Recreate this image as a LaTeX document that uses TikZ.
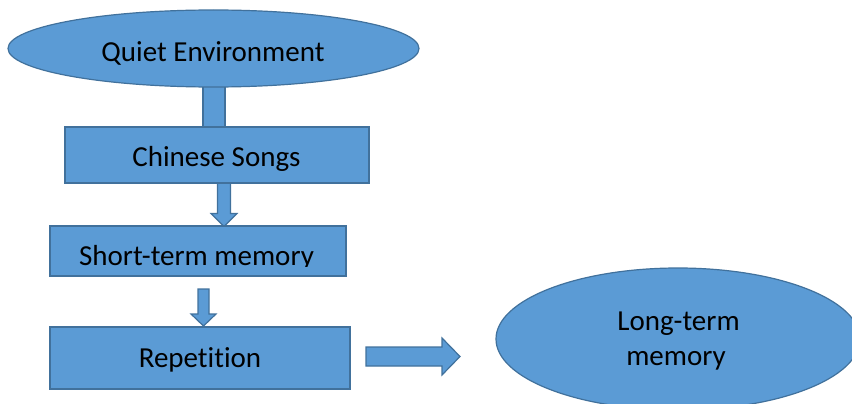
\documentclass[tikz,border=0pt]{standalone}
\usepackage{fontspec}
\setmainfont[RawFeature={-liga;-dlig}]{Carlito}
\usetikzlibrary{shapes.geometric,calc,backgrounds}
\definecolor{boxfill}{HTML}{5B9BD5}
\definecolor{boxline}{HTML}{41719C}
\begin{document}
\begin{tikzpicture}[x=1pt,y=-1pt,
  shapebox/.style={draw=boxline,fill=boxfill,line width=1.2pt,inner sep=0pt,outer sep=0pt},
  elli/.style={shapebox,ellipse},
  rect/.style={shapebox,rectangle},
  blk/.style={draw=boxline,fill=boxfill,line width=1.2pt,line join=miter},
  lbl/.style={anchor=base,inner sep=0pt,outer sep=0pt,font=\fontsize{29}{35}\selectfont,text=black}]
\useasboundingbox (0,0) rectangle (852,404);
\clip (0,0) rectangle (852,404);
% shapes
\node[elli,minimum width=411pt,minimum height=77pt] (qe) at (213.5,48.5) {};
\node[rect,minimum width=304pt,minimum height=56pt] (cs) at (217,155) {};
\node[rect,minimum width=296pt,minimum height=50pt] (stm) at (198,251) {};
\node[rect,minimum width=300pt,minimum height=62pt] (rep) at (200,358) {};
\node[elli,minimum width=364pt,minimum height=142pt] (ltm) at (678,339) {};
% texts
\node[lbl] (qet) at (213,62) {Quiet Environment};
\node[lbl] (cst) at (216.5,166) {Chinese Songs};
\begin{scope}
  \clip (50,226) rectangle (346,266);
  \node[lbl] (stmt) at (196.5,265) {Short-term memory};
\end{scope}
\node[lbl] (rept) at (200,367) {Repetition};
\node[lbl] (ltmt1) at (678.5,330) {Long-term};
\node[lbl] (ltmt2) at (676,365) {memory};
% connectors
\begin{scope}[on background layer]
  \draw[blk] ($(qe.south)+(-10.5,-3)$) rectangle ($(cs.north)+(8,0)$);
  \coordinate (t2) at ($(stm.north)+(26,0.5)$);
  \draw[blk] (t2) -- ++(13,-13) -- ++(-6.5,0) -- ++(0,-31) -- ++(-13,0) -- ++(0,31) -- ++(-6.5,0) -- cycle;
\end{scope}
\coordinate (t3) at ($(rep.north)+(3.5,-1)$);
\draw[blk] (t3) -- ++(12.5,-12) -- ++(-7,0) -- ++(0,-25) -- ++(-11,0) -- ++(0,25) -- ++(-7,0) -- cycle;
\coordinate (t4) at ($(rep.east)+(16,-11)$);
\draw[blk] (t4) -- ++(76,0) -- ++(0,-9) -- ++(18,18.5) -- ++(-18,18.5) -- ++(0,-9) -- ++(-76,0) -- cycle;
\end{tikzpicture}
\end{document}
